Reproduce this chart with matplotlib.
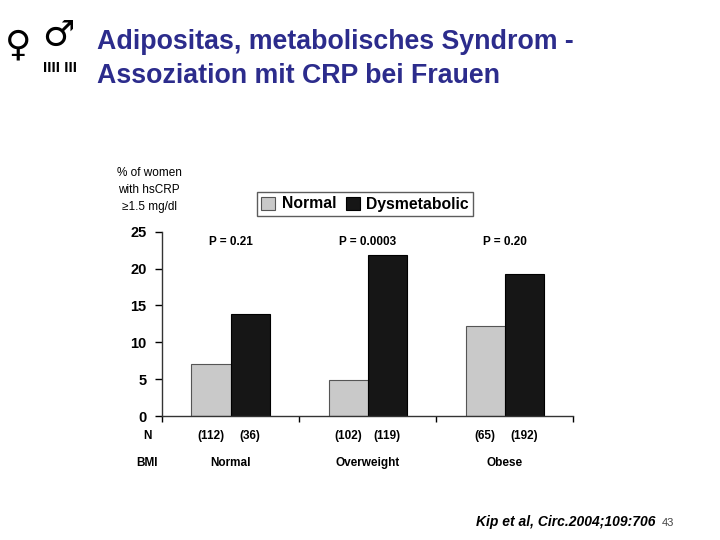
import matplotlib.pyplot as plt
import numpy as np

groups = ["Normal", "Overweight", "Obese"]
normal_vals = [7.1, 4.9, 12.2]
dysmet_vals = [13.8, 21.8, 19.2]
n_normal = ["(112)", "(102)", "(65)"]
n_dysmet = ["(36)", "(119)", "(192)"]
p_labels = ["P = 0.21", "P = 0.0003", "P = 0.20"]
yticks = [0, 5, 10, 15, 20, 25]

plt.rcParams['font.family'] = ['Liberation Sans', 'DejaVu Sans']

fig = plt.figure(figsize=(7.2, 5.4), dpi=100)
ax = fig.add_axes([0.225, 0.2296, 0.571, 0.3414])

x = np.arange(len(groups)) + 0.5
w = 0.285
ax.bar(x - w / 2, normal_vals, w, color='#c9c9c9', edgecolor='#555555', linewidth=0.8, label='Normal')
ax.bar(x + w / 2, dysmet_vals, w, color='#161616', edgecolor='#000000', linewidth=0.8, label='Dysmetabolic')

ax.set_xlim(0, 3)
ax.set_ylim(0, 25)
ax.set_yticks(yticks)
ax.set_yticklabels([str(t) for t in yticks], fontsize=10.5, fontweight='bold')
ax.set_xticks([0, 1, 2, 3])
ax.set_xticklabels([])
ax.tick_params(axis='y', direction='out', length=5, width=1, pad=6)
ax.tick_params(axis='x', direction='out', length=4, width=1)
for s in ['top', 'right']:
    ax.spines[s].set_visible(False)
for s in ['left', 'bottom']:
    ax.spines[s].set_linewidth(1)
    ax.spines[s].set_color('#333333')

for xi, p in zip(x, p_labels):
    ax.text(xi, 23.6, p, ha='center', va='center', fontsize=8.5, fontweight='bold')

trans = ax.get_xaxis_transform()
for xi, a, b, g in zip(x, n_normal, n_dysmet, groups):
    ax.text(xi - w / 2, -0.11, a, transform=trans, ha='center', va='center', fontsize=8.5, fontweight='bold')
    ax.text(xi + w / 2, -0.11, b, transform=trans, ha='center', va='center', fontsize=8.5, fontweight='bold')
    ax.text(xi, -0.255, g, transform=trans, ha='center', va='center', fontsize=8.5, fontweight='bold')

fig.text(147 / 720, 1 - 436 / 540, "N", ha='center', va='center', fontsize=8.5, fontweight='bold')
fig.text(147 / 720, 1 - 463 / 540, "BMI", ha='center', va='center', fontsize=8.5, fontweight='bold')

fig.text(149 / 720, 1 - 190 / 540, "% of women\nwith hsCRP\n\u22651.5 mg/dl", ha='center', va='center',
         fontsize=8.5, linespacing=1.55)

leg = ax.legend(loc='center', bbox_to_anchor=(365 / 720, 1 - 204 / 540), bbox_transform=fig.transFigure,
                ncol=2, frameon=True, fancybox=False, handlelength=0.9, handleheight=0.9,
                handletextpad=0.4, columnspacing=0.6, borderpad=0.3,
                prop={'weight': 'bold', 'size': 11.3})
leg.get_frame().set_edgecolor('#333333')
leg.get_frame().set_linewidth(1)

title_col = '#2c2c8c'
fig.text(97 / 720, 1 - 42 / 540, "Adipositas, metabolisches Syndrom -", ha='left', va='center',
         fontsize=19.3, fontweight='bold', color=title_col)
fig.text(97 / 720, 1 - 76 / 540, "Assoziation mit CRP bei Frauen", ha='left', va='center',
         fontsize=19.3, fontweight='bold', color=title_col)

# logo, rough sketch
fig.text(18 / 720, 1 - 45 / 540, "\u2640", ha='center', va='center', fontsize=26, family='DejaVu Sans')
fig.text(58 / 720, 1 - 36 / 540, "\u2642", ha='center', va='center', fontsize=26, family='DejaVu Sans')
fig.text(60 / 720, 1 - 68 / 540, "IIII III", ha='center', va='center', fontsize=11, fontweight='bold')

fig.text(655 / 720, 1 - 522 / 540, "Kip et al, Circ.2004;109:706", ha='right', va='center',
         fontsize=10, fontweight='bold', fontstyle='italic')
fig.text(662 / 720, 1 - 523 / 540, "43", ha='left', va='center', fontsize=8, color='#444444')

fig.savefig("out.png", dpi=100)
